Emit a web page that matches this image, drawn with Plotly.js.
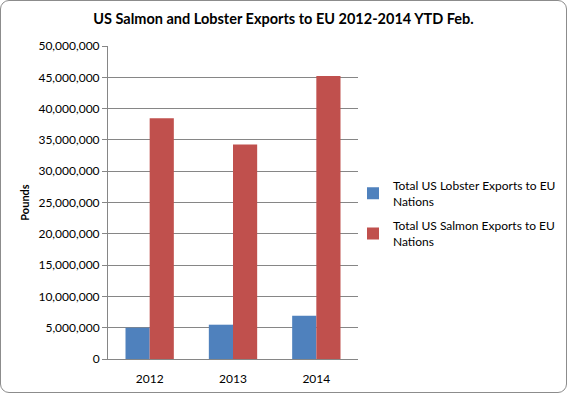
<!DOCTYPE html>
<html>
<head>
<meta charset="utf-8">
<script src="https://cdn.plot.ly/plotly-3.0.1.min.js"></script>
<style>
html,body{margin:0;padding:0;background:#fff;}
#wrap{position:relative;width:567px;height:393px;}
#chart{width:567px;height:393px;}
#border{position:absolute;left:0;top:0;width:565px;height:391px;border:1px solid #8c8c8c;border-radius:9px;pointer-events:none;}
</style>
</head>
<body>
<div id="wrap"><div id="chart"></div><div id="border"></div></div>
<script>
const categories = ['2012', '2013', '2014'];
const lobster = [5000000, 5480000, 6920000];
const salmon = [38450000, 34250000, 45200000];
const seriesNames = ['Total US Lobster Exports to EU<br>Nations', 'Total US Salmon Exports to EU<br>Nations'];
const yTicks = [0, 5000000, 10000000, 15000000, 20000000, 25000000, 30000000, 35000000, 40000000, 45000000, 50000000];

const font = 'Lato, "Open Sans", sans-serif';
const data = [
  {type: 'bar', x: categories, y: lobster, name: seriesNames[0], legendgroup: 'lobster', marker: {color: '#4F81BD'}},
  {type: 'bar', x: categories, y: salmon, name: seriesNames[1], legendgroup: 'salmon', marker: {color: '#C0504D'}}
];
const layout = {
  width: 567, height: 393,
  margin: {l: 108, r: 209, t: 46, b: 34, pad: 0, autoexpand: false},
  paper_bgcolor: '#fff', plot_bgcolor: '#fff',
  font: {family: font, size: 12, color: '#000'},
  title: {text: '<b>US Salmon and Lobster Exports to EU 2012-2014 YTD Feb.</b>', font: {family: font, size: 14.5, color: '#000'}, x: 0.5, xanchor: 'center', y: 0.952, yanchor: 'middle'},
  barmode: 'group', bargap: 0.42, bargroupgap: 0,
  xaxis: {type: 'category', showline: true, linecolor: '#868686', linewidth: 1, showgrid: false, ticks: 'outside', ticklen: 9, tickcolor: 'rgba(0,0,0,0)', tickfont: {family: font, size: 12}, fixedrange: true},
  yaxis: {range: [0, 50000000], tickvals: yTicks, tickformat: ',d', showgrid: true, gridcolor: '#868686', gridwidth: 1, showline: true, linecolor: '#868686', ticks: 'outside', ticklen: 5, tickcolor: '#868686', tickfont: {family: font, size: 12}, zeroline: false,
    title: {text: '<b>Pounds</b>', font: {family: font, size: 11}, standoff: 6}},
  showlegend: true,
  legend: {x: 0.98, y: 0.6, xanchor: 'left', yanchor: 'top', font: {family: font, size: 12}, tracegroupgap: 6, itemwidth: 30, bgcolor: 'rgba(0,0,0,0)'}
};
Plotly.newPlot('chart', data, layout, {displayModeBar: false, staticPlot: true});
</script>
</body>
</html>
